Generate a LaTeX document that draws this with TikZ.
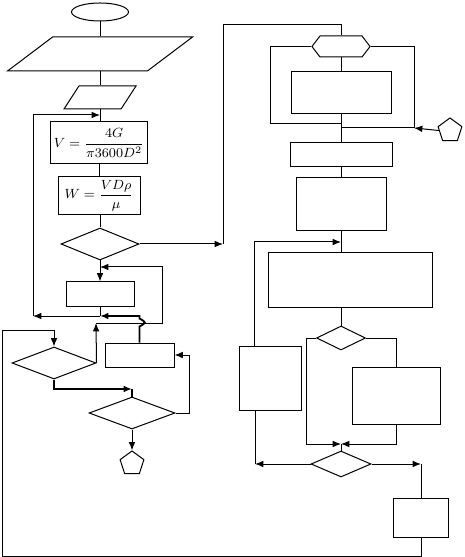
\documentclass[tikz,border=0pt]{standalone}
\usepackage{tikz}
\usetikzlibrary{shapes.geometric,shapes.symbols,arrows.meta}

\begin{document}
\begin{tikzpicture}[x=0.6pt,y=-0.6pt,line width=0.6pt,
    >={Latex[length=5pt,width=4pt]},
    px/.style 2 args={minimum width=#1*0.6pt,minimum height=#2*0.6pt},
    blk/.style 2 args={draw,rectangle,inner sep=0pt,px={#1}{#2}},
    dia/.style 2 args={draw,diamond,inner sep=0pt,px={#1}{#2}},
    term/.style 2 args={draw,ellipse,inner sep=0pt,px={#1}{#2}},
    par/.style n args={4}{draw,trapezium,inner xsep=0pt,inner ysep=#2*0.3pt,
      trapezium left angle=#3,trapezium right angle=#4,trapezium stretches body,
      minimum width=#1*0.6pt},
    hexa/.style 2 args={draw,signal,signal to=east and west,signal pointer angle=105,
      inner xsep=#1*0.6pt,inner ysep=#2*0.3pt},
    conn/.style={draw,regular polygon,regular polygon sides=5,inner sep=0pt,
      minimum size=25*0.6pt},
    bold/.style={line width=1.1pt}]
    \useasboundingbox (0,0) rectangle (464,557);

    \node[term={57}{18}] (start) at (100,12) {};
    \node[par={185}{34}{37}{143}] (in1) at (100,54) {};
    \node[par={72}{23}{57}{123}] (in2) at (100,97.5) {};
    \node[blk={97}{42}] (box1) at (99,143) {\footnotesize $V=\displaystyle\frac{4G}{\pi3600D^2}$};
    \node[blk={82}{38}] (box2) at (99,196) {\footnotesize $W=\displaystyle\frac{VD\rho}{\mu}$};
    \node[dia={78}{32}] (dia1) at (100,244) {};
    \node[blk={68}{24}] (box3) at (100,294) {};
    \node[dia={84}{32}] (dia2) at (54,363) {};
    \node[blk={69}{24}] (box4) at (139.5,355) {};
    \node[dia={86}{32}] (dia3) at (132,413) {};
    \node[conn] (con1) at (132,463.5) {};

    \node[hexa={21}{21}] (hex) at (341,46.5) {};
    \node[blk={100}{42}] (box5) at (341,93) {};
    \node[conn] (con2) at (450,130.5) {};
    \node[blk={102}{24}] (box6) at (341,155) {};
    \node[blk={90}{53}] (box7) at (341,204.5) {};
    \node[blk={164}{54}] (box8) at (350,280) {};
    \node[dia={49}{24}] (dia4) at (341,338) {};
    \node[blk={62}{64}] (box9) at (270,378) {};
    \node[blk={88}{57}] (box10) at (396,395.5) {};
    \node[dia={60}{26}] (dia5) at (341,464) {};
    \node[blk={55}{39}] (box11) at (421,517.5) {};

    \coordinate (ret1) at (100,316);
    \coordinate (ret2) at (33,316);
    \coordinate (ret4) at (100,115);
    \coordinate (lp1) at (96,323);
    \coordinate (lp4) at (100,267);
    \coordinate (up1) at (223,244);
    \coordinate (top) at (341,25);
    \coordinate (lj) at (341,124);
    \coordinate (rj) at (414,128);
    \coordinate (fb) at (341,242);
    \coordinate (b9t) at (254,346);
    \coordinate (b9b) at (255,410);
    \coordinate (mj) at (341,444);

    \draw (start.south) -- (in1.north);
    \draw (in1.south) -- (in2.north);
    \draw (in2.south) -- (in2.south |- box1.north);
    \draw (box1.south) -- (box2.north);
    \draw (dia1.north |- box2.south) -- (dia1.north);
    \draw[->] (dia1.south) -- (box3.north);
    \draw (box3.south) -- (ret1);
    \draw[->] (ret1) -- (ret2);
    \draw[->] (ret2) |- (ret4);
    \draw[->,bold] (box4.north) -- ++(0,-16) .. controls ++(7,-4) .. ++(0,-8)
      -- (ret1 -| box4.north) -- (ret1);
    \draw[->] (dia2.east) -- (lp1);
    \draw[->] (lp1) -- ++(66,0) |- (lp4);
    \draw[->] (box11.south) |- (2,556) |- (dia2.north |- 0,330) -- (dia2.north);
    \draw[->,bold] (dia2.south) |- (dia3.north |- 0,389);
    \draw[bold] (dia3.north |- 0,389) -- (dia3.north);
    \draw[->] (dia3.east) -- ++(14,0) |- (box4.east);
    \draw[->] (dia3.south) -- (con1.north);

    \draw[->] (dia1.east) -- (up1);
    \draw (up1) |- (top) -- (hex.north);
    \draw (hex.south) -- (box5.north);
    \draw (hex.west) -| (270,124) -- (lj);
    \draw (hex.east) -| (rj) -- (rj -| box5.south);
    \draw[->] (con2.west) -- (rj);
    \draw (box5.south) -- (box6.north);
    \draw (box6.south) -- (box7.north);
    \draw (box7.south) -- (box7.south |- box8.north);
    \draw[->] (b9t) |- (fb);
    \draw (dia4.north |- box8.south) -- (dia4.north);
    \draw[->] (dia4.west) -- ++(-10,0) |- (mj);
    \draw (dia4.east) -| (box10.north);
    \draw[->] (box10.south) |- (mj);
    \draw (mj) -- (dia5.north);
    \draw (b9b) -- (b9b |- dia5.west);
    \draw[->] (dia5.west) -- (b9b |- dia5.west);
    \draw[->] (dia5.east) -- (dia5.east -| box11.north);
    \draw (dia5.east -| box11.north) -- (box11.north);
\end{tikzpicture}
\end{document}
